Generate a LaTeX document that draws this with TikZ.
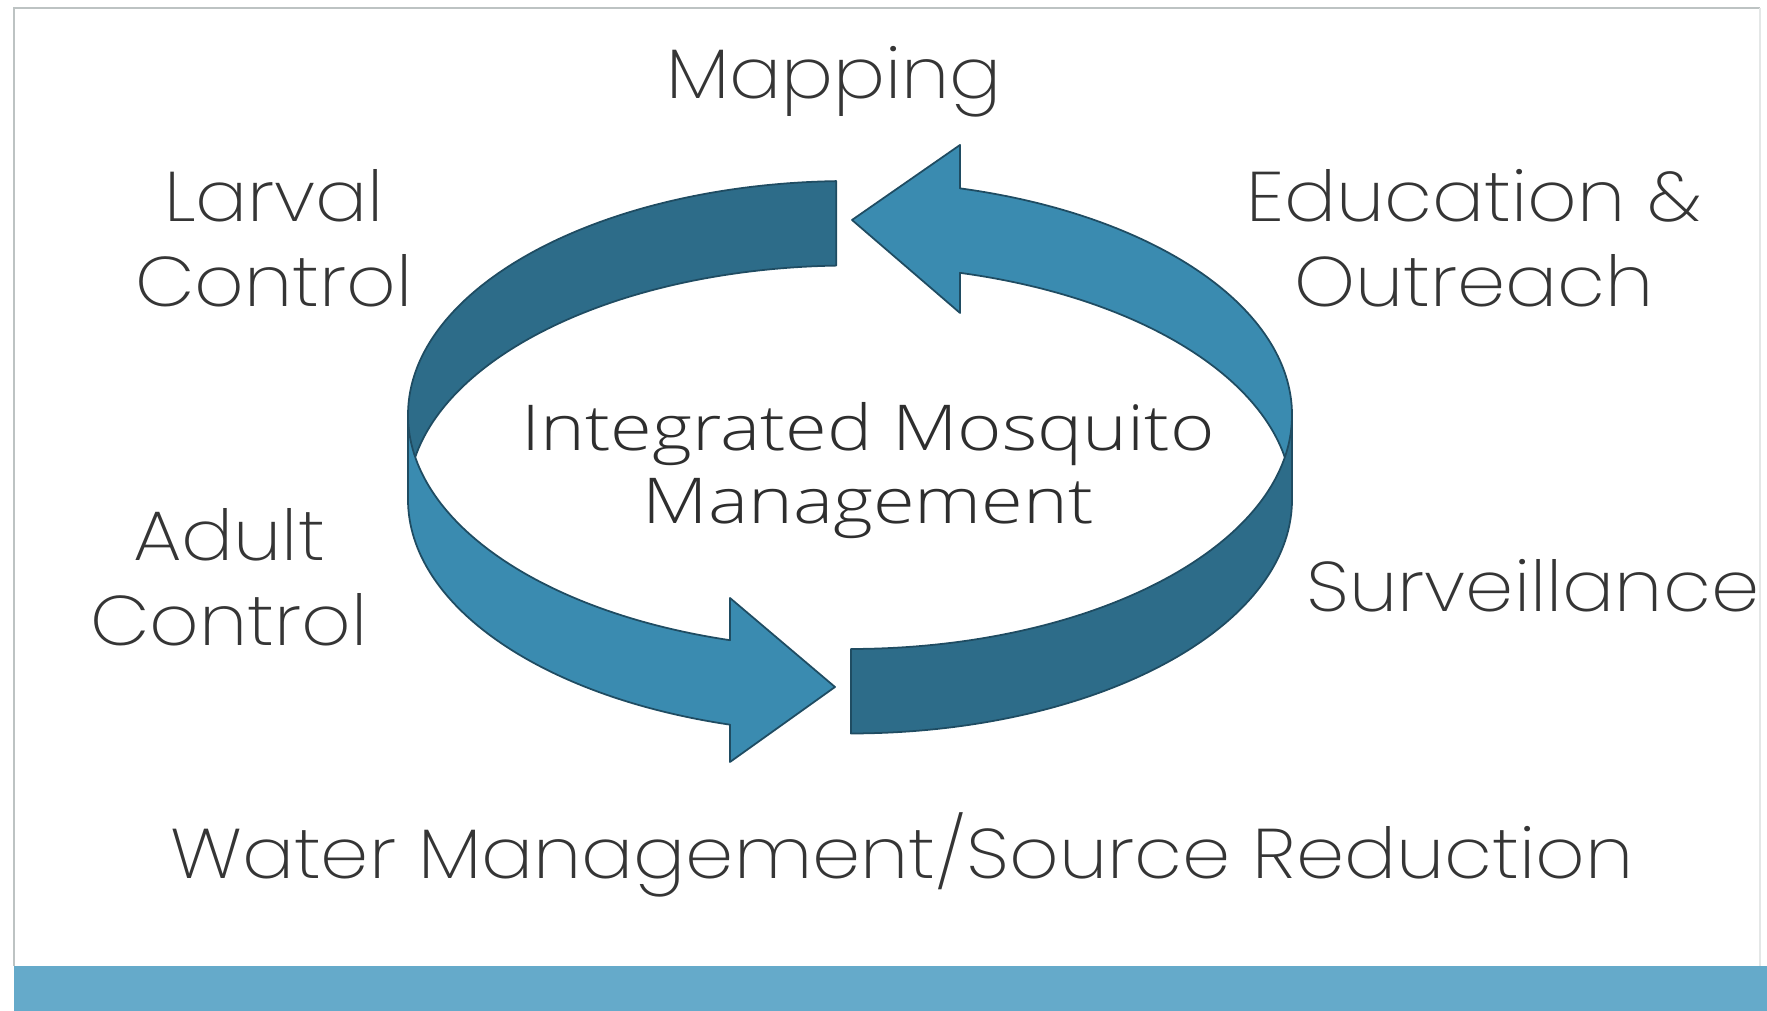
\documentclass[tikz,border=0pt]{standalone}
\usepackage{fontspec}
\setmainfont{Poppins}[UprightFont=* ExtraLight, FakeStretch=1.1]
\newfontfamily\ctrfont{Open Sans}[UprightFont=* Light, FakeStretch=1.2]
\definecolor{bandDark}{HTML}{2D6C89}
\definecolor{bandLight}{HTML}{3A8BB0}
\definecolor{bandEdge}{HTML}{1F4C62}
\definecolor{txtgray}{HTML}{353535}
\definecolor{ctrgray}{HTML}{2E2E2E}
\definecolor{framegray}{HTML}{BDC3C3}
\definecolor{barblue}{HTML}{65AACA}

\begin{document}
\begin{tikzpicture}[
  lbl/.style={text=txtgray, font=\fontsize{20}{24.2}\selectfont, align=center, anchor=base, inner sep=0},
  ctr/.style={text=ctrgray, font=\ctrfont\fontsize{18}{20.8}\selectfont, align=center, anchor=base, inner sep=0},
  darkface/.style={fill=bandDark, draw=bandEdge, line width=0.5pt, line join=round},
  lightface/.style={fill=bandLight, draw=bandEdge, line width=0.5pt, line join=round},
  ell/.style={x radius=4.42, y radius=2.34}]
\useasboundingbox (0,0) rectangle (17.67,10.11);
\draw[framegray, line width=0.8pt] (0.14,0.45) -- (0.14,10.03) -- (17.60,10.03);
\draw[framegray!40, line width=0.5pt] (17.60,10.03) -- (17.60,0.45);
\fill[barblue] (0.14,0) rectangle (17.67,0.45);
\coordinate (c1) at (8.50,5.96);
\coordinate (c2) at (8.50,5.115);
% back half of the ring:
\path[darkface] ([shift={(91.8:4.42 and 2.34)}]c1) arc[ell, start angle=91.8, end angle=180] -- ++(0,-0.845) arc[ell, start angle=180, end angle=91.8] -- cycle;
\path[lightface] ([shift={(0:4.42 and 2.34)}]c1) arc[ell, start angle=0, end angle=75.6] -- (9.60,8.66) -- (8.52,7.91) -- (9.60,6.98) -- ([shift={(75.6:4.42 and 2.34)}]c2) arc[ell, start angle=75.6, end angle=0] -- cycle;
% front half:
\path[lightface] ([shift={(180:4.42 and 2.34)}]c1) arc[ell, start angle=180, end angle=254.25] -- (7.30,4.13) -- (8.35,3.24) -- (7.30,2.49) -- ([shift={(254.25:4.42 and 2.34)}]c2) arc[ell, start angle=254.25, end angle=180] -- cycle;
\path[darkface] ([shift={(270.13:4.42 and 2.34)}]c1) arc[ell, start angle=270.13, end angle=360] -- ++(0,-0.845) arc[ell, start angle=360, end angle=270.13] -- cycle;
\node[lbl] (mapping) at (8.34,9.12) {Mapping};
\node[lbl] (larval) at (2.74,7.04) {Larval\\Control};
\node[lbl] (educ) at (14.74,7.04) {Education \&\\Outreach};
\node[lbl] (adult) at (2.29,3.65) {Adult\\Control};
\node[lbl] (surv) at (15.33,3.99) {Surveillance};
\node[lbl] (water) at (9.02,1.32) {Water Management/Source Reduction};
\node[ctr] (imm) at (8.68,4.87) {Integrated Mosquito\\Management};
\end{tikzpicture}
\end{document}
